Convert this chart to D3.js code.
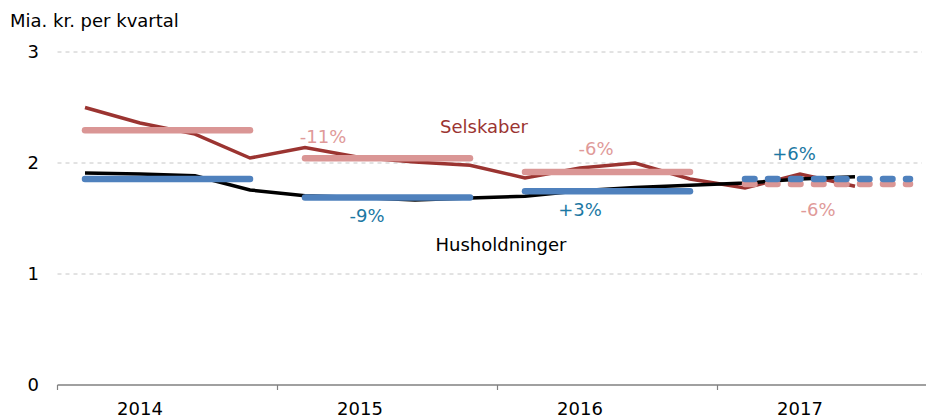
<!DOCTYPE html>
<html>
<head>
<meta charset="utf-8">
<script src="https://cdn.jsdelivr.net/npm/d3@7"></script>
<style>
  body { margin: 0; background: #fff; }
  svg { display: block; font-family: Verdana, "DejaVu Sans", sans-serif; }
</style>
</head>
<body>
<div id="chart"></div>
<script>
const years = ["2014", "2015", "2016", "2017"];
const quarters = ["2014K1", "2014K2", "2014K3", "2014K4",
                  "2015K1", "2015K2", "2015K3", "2015K4",
                  "2016K1", "2016K2", "2016K3", "2016K4",
                  "2017K1", "2017K2", "2017K3", "2017K4"];
const selskaber = [2.50, 2.36, 2.26, 2.045, 2.14, 2.05, 2.01, 1.98, 1.865, 1.955, 2.00, 1.856, 1.775, 1.90, 1.79];
const husholdninger = [1.91, 1.90, 1.885, 1.757, 1.705, 1.69, 1.667, 1.685, 1.70, 1.75, 1.78, 1.80, 1.82, 1.855, 1.877];
const selskaberAvg = [2.295, 2.043, 1.92, 1.81];
const husholdningerAvg = [1.856, 1.69, 1.745, 1.856];
const selskaberChange = ["", "-11%", "-6%", "-6%"];
const husholdningerChange = ["", "-9%", "+3%", "+6%"];
const yTicks = [0, 1, 2, 3];

const width = 926, height = 418;
const margin = { top: 52, right: 0, bottom: 33, left: 57.5 };
const colors = { sel: "#9b3431", selAvg: "#da9695", selText: "#e09a99", hus: "#000", husAvg: "#4f81bd", husText: "#1c78a3" };

const svg = d3.select("#chart")
    .append("svg")
    .attr("width", width)
    .attr("height", height);

let x = d3.scaleBand()
    .domain(quarters)
    .range([margin.left, margin.left + 880]);
let xYear = d3.scaleBand()
    .domain(years)
    .range([margin.left, margin.left + 880]);
let y = d3.scaleLinear()
    .domain([0, 3])
    .range([height - margin.bottom, margin.top]);

const qx = i => x(quarters[i]) + x.bandwidth() / 2;

// gridlines
svg.append("g")
    .selectAll("line")
    .data(yTicks.filter(d => d > 0))
    .join("line")
    .attr("x1", margin.left)
    .attr("x2", 922)
    .attr("y1", d => y(d))
    .attr("y2", d => y(d))
    .attr("stroke", "#c6c6c6")
    .attr("stroke-dasharray", "4,4");

// y tick labels
svg.append("g")
    .attr("font-size", 18)
    .attr("text-anchor", "end")
    .selectAll("text")
    .data(yTicks)
    .join("text")
    .attr("x", 39)
    .attr("y", d => y(d))
    .attr("dy", "0.35em")
    .attr("fill", "#000")
    .text(d => d);

svg.append("text")
    .attr("x", 10)
    .attr("y", 27)
    .attr("font-size", 18)
    .text("Mia. kr. per kvartal");

// x axis: baseline, year ticks and year labels (centred on 2nd quarter)
const axisG = svg.append("g").attr("stroke", "#808080");
axisG.append("line")
    .attr("x1", margin.left)
    .attr("x2", width)
    .attr("y1", y(0))
    .attr("y2", y(0))
    .attr("stroke-width", 1.5);
axisG.selectAll(".tick")
    .data(years)
    .join("line")
    .attr("x1", d => xYear(d))
    .attr("x2", d => xYear(d))
    .attr("y1", y(0))
    .attr("y2", y(0) + 5)
    .attr("stroke-width", 1.2);

svg.append("g")
    .attr("font-size", 18)
    .attr("text-anchor", "middle")
    .selectAll("text")
    .data(years)
    .join("text")
    .attr("x", d => x(d + "K2") + x.bandwidth() / 2)
    .attr("y", y(0) + 30)
    .text(d => d);

// quarterly lines
const line = d3.line()
    .x((d, i) => qx(i))
    .y(d => y(d));

svg.append("path")
    .datum(selskaber)
    .attr("fill", "none")
    .attr("stroke", colors.sel)
    .attr("stroke-width", 3.5)
    .attr("d", line);

svg.append("path")
    .datum(husholdninger)
    .attr("fill", "none")
    .attr("stroke", colors.hus)
    .attr("stroke-width", 3.5)
    .attr("d", line);

// annual averages
function avgBars(data, color) {
    svg.append("g")
        .selectAll("line")
        .data(data)
        .join("line")
        .attr("x1", (d, i) => qx(i * 4))
        .attr("x2", (d, i) => qx(i * 4 + 3))
        .attr("y1", d => y(d))
        .attr("y2", d => y(d))
        .attr("stroke", color)
        .attr("stroke-width", 6.5)
        .attr("stroke-linecap", "round")
        .attr("stroke-dasharray", (d, i) => i === years.length - 1 ? "9.5,13.5" : null);
}
avgBars(selskaberAvg, colors.selAvg);
avgBars(husholdningerAvg, colors.husAvg);

// change labels: [quarter index, dx, dy from the bar]
const selLabelPos = [null, [4, 18, -15], [9, 16, -17], [13, 18, 32]];
const husLabelPos = [null, [5, 7, 25], [9, 0, 25], [13, -6, -19]];

function changeLabels(texts, avgs, pos, color) {
    svg.append("g")
        .attr("font-size", 18)
        .attr("text-anchor", "middle")
        .attr("fill", color)
        .selectAll("text")
        .data(texts.map((t, i) => ({ t, v: avgs[i], p: pos[i] })).filter(d => d.p))
        .join("text")
        .attr("x", d => qx(d.p[0]) + d.p[1])
        .attr("y", d => y(d.v) + d.p[2])
        .text(d => d.t);
}
changeLabels(selskaberChange, selskaberAvg, selLabelPos, colors.selText);
changeLabels(husholdningerChange, husholdningerAvg, husLabelPos, colors.husText);

// series names
svg.append("text")
    .attr("x", 484)
    .attr("y", 133)
    .attr("text-anchor", "middle")
    .attr("font-size", 18)
    .attr("fill", colors.sel)
    .text("Selskaber");

svg.append("text")
    .attr("x", 501)
    .attr("y", 251)
    .attr("text-anchor", "middle")
    .attr("font-size", 18)
    .attr("fill", "#000")
    .text("Husholdninger");
</script>
</body>
</html>
